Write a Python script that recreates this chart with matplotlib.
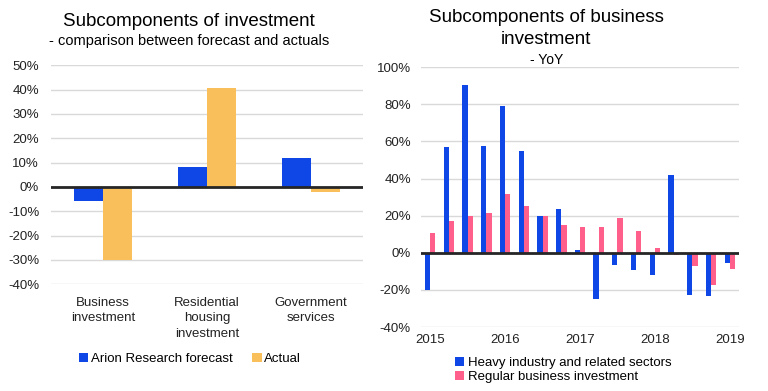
import matplotlib
matplotlib.use("Agg")
import matplotlib.pyplot as plt
import numpy as np
from matplotlib.ticker import FuncFormatter

plt.rcParams['font.family'] = ['Liberation Sans', 'DejaVu Sans']

# Left chart data
left_categories = ["Business\ninvestment", "Residential\nhousing\ninvestment", "Government\nservices"]
forecast = [-5.8, 8.1, 11.8]
actual = [-30.2, 40.5, -2.1]

# Right chart data (quarterly, 2015Q1 - 2019Q1)
heavy = [-20.0, 57.0, 90.5, 57.6, 79.1, 54.9, 19.8, 23.6, 1.4, -24.8, -6.5, -9.4,
         -12.0, 41.9, -22.8, -23.4, -5.4]
regular = [10.6, 17.1, 19.8, 21.4, 31.7, 25.2, 19.8, 14.9, 13.8, 13.8, 18.7, 11.7,
           2.5, -1.1, -7.2, -17.4, -8.8]
year_labels = ["2015", "2016", "2017", "2018", "2019"]

BLUE = '#0f46e6'
ORANGE = '#f9bf5b'
PINK = '#ff5f8b'
GRID = '#d9d9d9'

fig = plt.figure(figsize=(7.68, 3.91), dpi=100)

pct = FuncFormatter(lambda v, p: f"{v:.0f}%")

# Left axes
ax1 = fig.add_axes([51/768, 1-284.3/391, (363-51)/768, (284.3-65.3)/391])
x = np.arange(len(left_categories))
w = 0.28
ax1.bar(x - w/2, forecast, w, color=BLUE, label="Arion Research forecast", zorder=2)
ax1.bar(x + w/2, actual, w, color=ORANGE, label="Actual", zorder=2)
ax1.set_xlim(-0.5, len(left_categories) - 0.5)
ax1.set_ylim(-40, 50)
ax1.set_yticks(np.arange(-40, 51, 10))
ax1.yaxis.set_major_formatter(pct)
ax1.grid(axis='y', color=GRID, linewidth=1, zorder=0)
ax1.axhline(0, color='#262626', linewidth=2, zorder=3)
for s in ax1.spines.values():
    s.set_visible(False)
ax1.tick_params(length=0, labelsize=9.5, colors='#222222')
ax1.tick_params(axis='y', pad=8.5)
ax1.set_xticks(x)
ax1.set_xticklabels(left_categories, fontsize=9.5, linespacing=1.4)
ax1.tick_params(axis='x', pad=9)
fig.text(189/768, 1-22/391, "Subcomponents of investment", ha='center', va='center', fontsize=13.5)
fig.text(189/768, 1-41/391, "- comparison between forecast and actuals", ha='center', va='center', fontsize=10.5)
ax1.legend(loc='center', bbox_to_anchor=(190/768, 1-359/391), bbox_transform=fig.transFigure,
           ncol=2, frameon=False, fontsize=9.5, handlelength=0.7, handleheight=0.7,
           handletextpad=0.2, columnspacing=1.5)

# Right axes
ax2 = fig.add_axes([420.7/768, 1-327/391, (739.3-420.7)/768, (327-67.3)/391])
xr = np.arange(len(heavy))
wr = 0.28
ax2.bar(xr - wr/2, heavy, wr, color=BLUE, label="Heavy industry and related sectors", zorder=2)
ax2.bar(xr + wr/2, regular, wr, color=PINK, label="Regular business investment", zorder=2)
ax2.set_xlim(-0.5, len(heavy) - 0.5)
ax2.set_ylim(-40, 100)
ax2.set_yticks(np.arange(-40, 101, 20))
ax2.yaxis.set_major_formatter(pct)
ax2.grid(axis='y', color=GRID, linewidth=1, zorder=0)
ax2.axhline(0, color='#262626', linewidth=2, zorder=3)
for s in ax2.spines.values():
    s.set_visible(False)
ax2.set_xticks(np.arange(0, len(heavy), 4))
ax2.set_xticklabels(year_labels)
ax2.tick_params(length=0, labelsize=9.5, colors='#222222')
ax2.tick_params(axis='y', pad=7)
ax2.tick_params(axis='x', pad=5)
fig.text(546/768, 1-18/391, "Subcomponents of business", ha='center', va='center', fontsize=13.5)
fig.text(546/768, 1-40/391, "investment", ha='center', va='center', fontsize=13.5)
fig.text(547/768, 1-60/391, "- YoY", ha='center', va='center', fontsize=10)
ax2.legend(loc='upper left', bbox_to_anchor=(455/768, 1-357/391), bbox_transform=fig.transFigure,
           ncol=1, frameon=False, fontsize=9.5, handlelength=0.7, handleheight=0.7,
           handletextpad=0.3, labelspacing=0.12, borderpad=0, borderaxespad=0)

fig.savefig("out.png", dpi=100)
